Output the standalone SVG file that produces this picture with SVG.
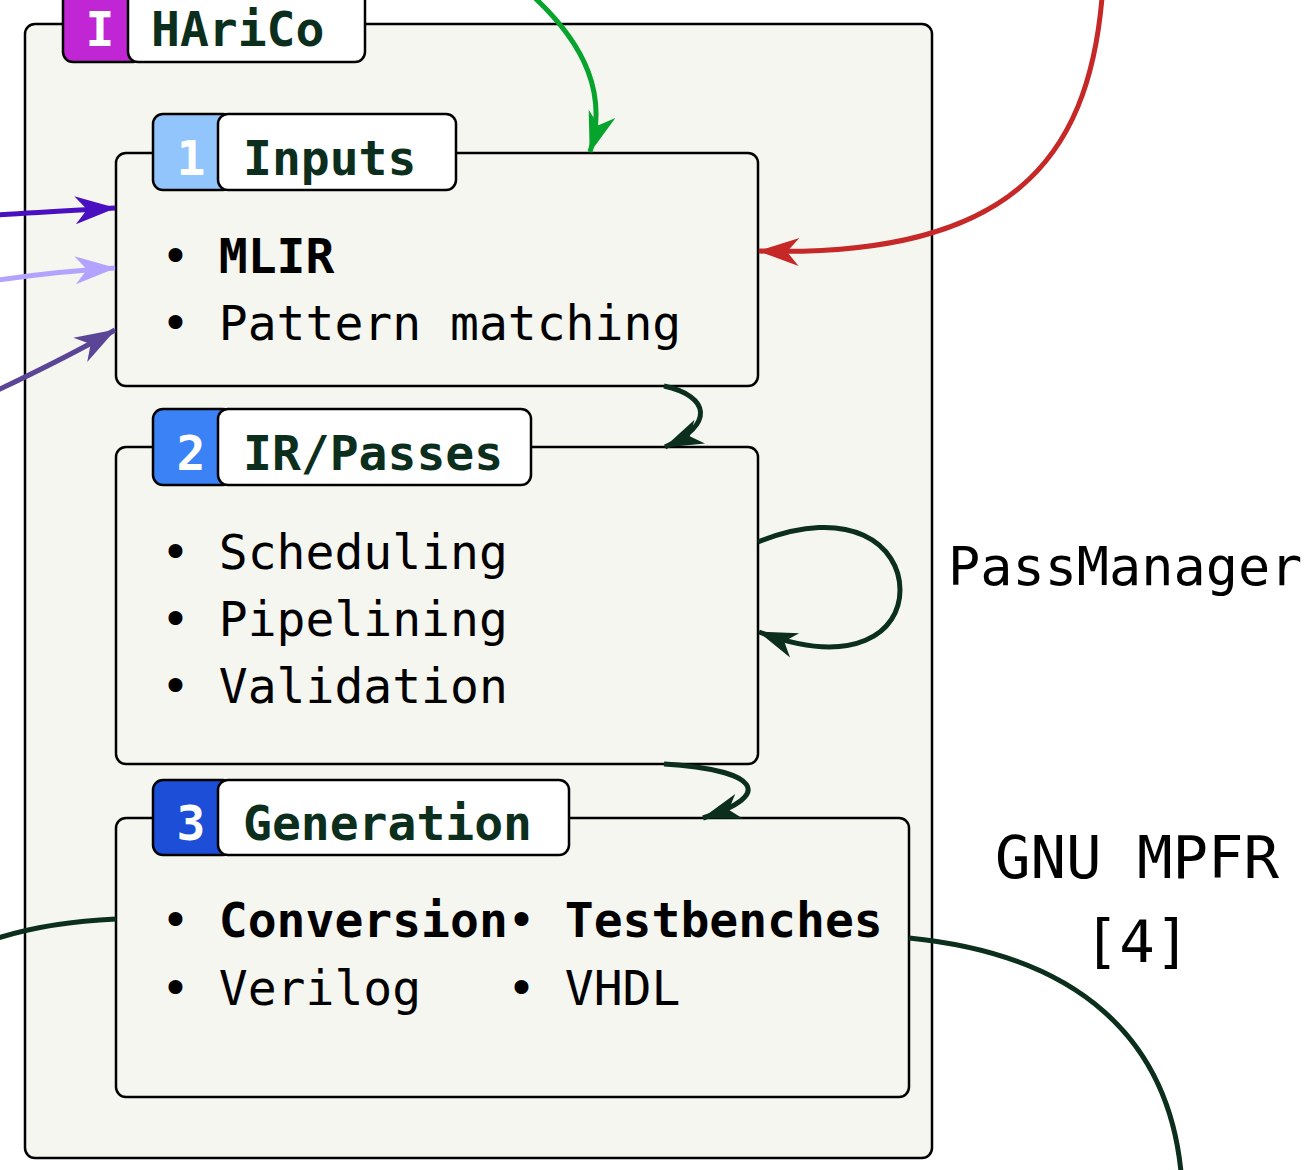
<svg xmlns="http://www.w3.org/2000/svg" width="1306" height="1170" viewBox="0 0 1306 1170">
<style>
.box{fill:#f5f6f0;stroke:#000;stroke-width:2.5}
.lbl{fill:#fff;stroke:#000;stroke-width:2.5}
.badge{stroke:#000;stroke-width:2.5}
.num{font-family:"DejaVu Sans Mono",monospace;font-weight:bold;font-size:48px;fill:#fff;text-anchor:middle}
.title{font-family:"DejaVu Sans Mono",monospace;font-weight:bold;font-size:48px;fill:#0b2e1d}
.item{font-family:"DejaVu Sans Mono",monospace;font-size:48px;fill:#000}
.b{font-weight:bold}
.ext{font-family:"DejaVu Sans Mono",monospace;fill:#000}
.c{fill:none;stroke-width:5}
</style>
<defs>
<marker id="aGreen" markerUnits="userSpaceOnUse" markerWidth="50" markerHeight="40" refX="0" refY="0" viewBox="-45 -20 50 40" orient="auto" overflow="visible"><path d="M1,0 L-40,-14 L-28,0 L-40,14 Z" fill="#06a42c"/></marker>
<marker id="aRed" markerUnits="userSpaceOnUse" markerWidth="50" markerHeight="40" refX="0" refY="0" viewBox="-45 -20 50 40" orient="auto" overflow="visible"><path d="M1,0 L-40,-14 L-28,0 L-40,14 Z" fill="#c62828"/></marker>
<marker id="aP1" markerUnits="userSpaceOnUse" markerWidth="50" markerHeight="40" refX="0" refY="0" viewBox="-45 -20 50 40" orient="auto" overflow="visible"><path d="M1,0 L-40,-14 L-28,0 L-40,14 Z" fill="#4a0fc0"/></marker>
<marker id="aP2" markerUnits="userSpaceOnUse" markerWidth="50" markerHeight="40" refX="0" refY="0" viewBox="-45 -20 50 40" orient="auto" overflow="visible"><path d="M1,0 L-40,-14 L-28,0 L-40,14 Z" fill="#b3a3ff"/></marker>
<marker id="aP3" markerUnits="userSpaceOnUse" markerWidth="50" markerHeight="40" refX="0" refY="0" viewBox="-45 -20 50 40" orient="auto" overflow="visible"><path d="M1,0 L-40,-14 L-28,0 L-40,14 Z" fill="#5b4597"/></marker>
<marker id="aDk" markerUnits="userSpaceOnUse" markerWidth="50" markerHeight="40" refX="0" refY="0" viewBox="-45 -20 50 40" orient="auto" overflow="visible"><path d="M1,0 L-38,-13 L-27,0 L-38,13 Z" fill="#0b2e1d"/></marker>
</defs>
<rect width="1306" height="1170" fill="#fff"/>

<g id="harico">
<rect class="box" x="25" y="24" width="907" height="1134" rx="10"/>
<rect class="badge" x="63" y="-14" width="80" height="76" rx="10" fill="#c026d3"/>
<rect class="lbl" x="128" y="-14" width="237" height="76" rx="10"/>
<text class="num" x="100" y="46">I</text>
<text class="title" x="151" y="46">HAriCo</text>
</g>

<g id="inputs">
<rect class="box" x="116" y="153" width="642" height="233" rx="10"/>
<rect class="badge" x="153" y="114" width="80" height="76" rx="10" fill="#93c5fd"/>
<rect class="lbl" x="218" y="114" width="238" height="76" rx="10"/>
<text class="num" x="191" y="175">1</text>
<text class="title" x="243" y="175">Inputs</text>
<text class="item" x="161" y="273">• <tspan class="b">MLIR</tspan></text>
<text class="item" x="161" y="340">• Pattern matching</text>
</g>

<g id="irpasses">
<rect class="box" x="116" y="447" width="642" height="317" rx="10"/>
<rect class="badge" x="153" y="409" width="80" height="76" rx="10" fill="#3b82f6"/>
<rect class="lbl" x="218" y="409" width="313" height="76" rx="10"/>
<text class="num" x="191" y="470">2</text>
<text class="title" x="243" y="470">IR/Passes</text>
<text class="item" x="161" y="569">• Scheduling</text>
<text class="item" x="161" y="636">• Pipelining</text>
<text class="item" x="161" y="703">• Validation</text>
</g>

<g id="generation">
<rect class="box" x="116" y="818" width="793" height="279" rx="10"/>
<rect class="badge" x="153" y="780" width="80" height="75" rx="10" fill="#1d4ed8"/>
<rect class="lbl" x="218" y="780" width="351" height="75" rx="10"/>
<text class="num" x="191" y="840">3</text>
<text class="title" x="243" y="840">Generation</text>
<text class="item" x="161" y="937">• <tspan class="b">Conversion</tspan></text>
<text class="item" x="507" y="937">• <tspan class="b">Testbenches</tspan></text>
<text class="item" x="161" y="1005">• Verilog</text>
<text class="item" x="507" y="1005">• VHDL</text>
</g>

<g id="passmanager-label">
<text class="ext" x="948" y="585" font-size="53.5">PassManager</text>
</g>
<g id="mpfr-label">
<text class="ext" x="1137" y="878" font-size="59" text-anchor="middle">GNU MPFR</text>
<text class="ext" x="1137" y="962" font-size="59" text-anchor="middle">[4]</text>
</g>

<g id="connectors">
<path class="c" stroke="#06a42c" d="M535,-2 C585,45 608,95 590,152" marker-end="url(#aGreen)"/>
<path class="c" stroke="#c62828" d="M1102,-2 C1088,160 1010,258 759,251" marker-end="url(#aRed)"/>
<path class="c" stroke="#4a0fc0" d="M-2,215 C40,212 80,210 115,208" marker-end="url(#aP1)"/>
<path class="c" stroke="#b3a3ff" d="M-2,280 C40,274 80,270 115,268" marker-end="url(#aP2)"/>
<path class="c" stroke="#5b4597" d="M-2,390 C40,370 80,350 115,330" marker-end="url(#aP3)"/>
<path class="c" stroke="#0b2e1d" d="M664,386 C710,396 715,425 665,447" marker-end="url(#aDk)"/>
<path class="c" stroke="#0b2e1d" d="M758,542 C850,505 900,545 900,590 C900,632 855,668 759,632" marker-end="url(#aDk)"/>
<path class="c" stroke="#0b2e1d" d="M664,764 C760,770 775,795 703,818" marker-end="url(#aDk)"/>
<path class="c" stroke="#0b2e1d" d="M-2,938 C30,928 70,921 116,919"/>
<path class="c" stroke="#0b2e1d" d="M909,938 C1080,955 1168,1040 1181,1172"/>
</g>
</svg>
